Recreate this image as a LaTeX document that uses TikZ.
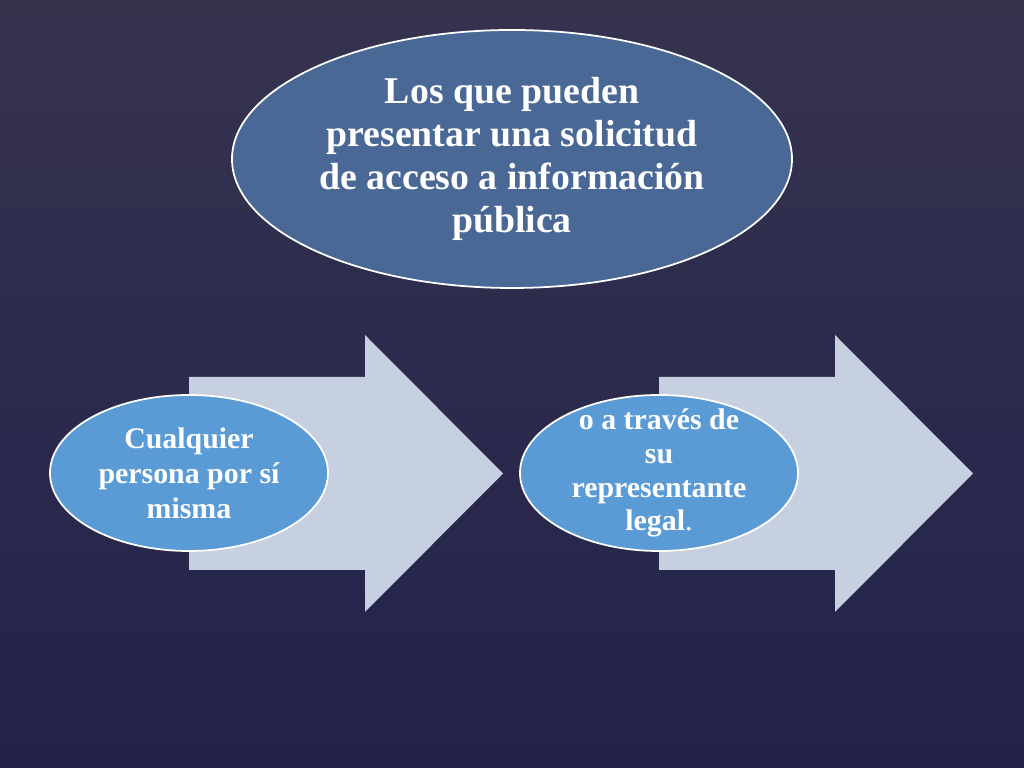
\documentclass[tikz,border=0pt]{standalone}
\usepackage{fontspec}
\setmainfont{Liberation Serif}
\usetikzlibrary{shapes.geometric}

\definecolor{fondoarriba}{HTML}{36334F}
\definecolor{fondoabajo}{HTML}{22224B}
\definecolor{azulgrande}{HTML}{4A6896}
\definecolor{azulchico}{HTML}{5B9BD5}
\definecolor{flechagris}{HTML}{C6D0E1}

\begin{document}
\begin{tikzpicture}
    \tikzstyle{grande} = [ellipse, draw=white, line width=1pt, fill=azulgrande, text=white, font=\fontsize{21.5}{24.5}\selectfont\bfseries, align=center, minimum width=11.2cm, minimum height=5.16cm, inner sep=0pt]
    \tikzstyle{chico} = [ellipse, draw=white, line width=1pt, fill=azulchico, text=white, font=\fontsize{17}{20}\selectfont\bfseries, align=center, minimum width=5.56cm, minimum height=3.12cm, inner sep=0pt, inner ysep=-0.45cm]
    \tikzstyle{flechabox} = [fill=flechagris]

    \shade[top color=fondoarriba, bottom color=fondoabajo] (0,0) rectangle (20.48,15.36);

    \node[grande] (titulo) at (10.24, 12.18) {Los que pueden\\ presentar una solicitud\\de acceso a información\\pública};

    \foreach \x in {3.78, 13.18}
    \fill[flechabox] (\x,7.82) -- (\x+3.52,7.82) -- (\x+3.52,8.66) -- (\x+6.28,5.89) -- (\x+3.52,3.12) -- (\x+3.52,3.96) -- (\x,3.96) -- cycle;

    \node[chico] (persona) at (3.78, 5.9) {Cualquier\\persona por sí\\misma};
    \node[chico, font=\fontsize{17}{19.3}\selectfont\bfseries] (representante) at (13.18, 5.9) {o a través de\\su\\representante\\legal{\mdseries .}};
  \end{tikzpicture}
\end{document}
